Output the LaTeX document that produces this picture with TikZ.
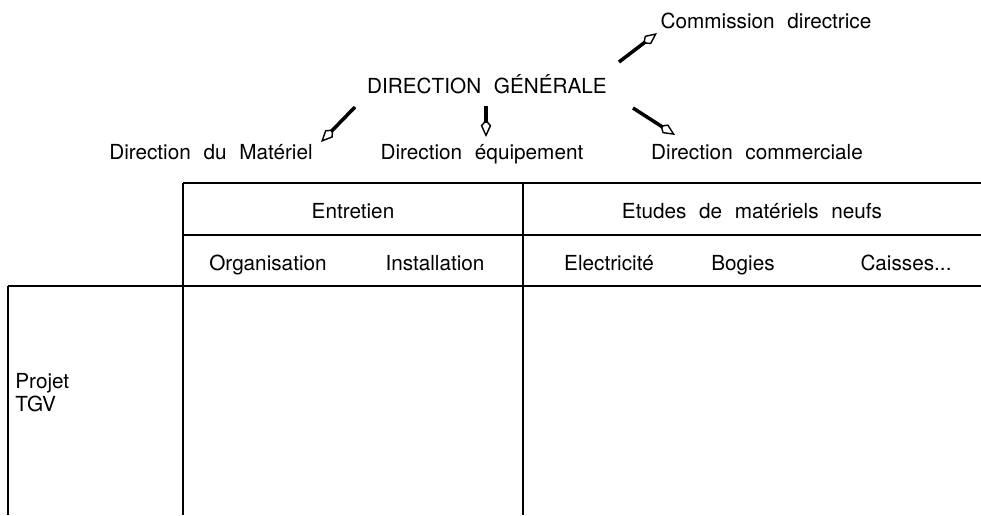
\documentclass[tikz,border=0pt]{standalone}
\usepackage{fontspec}
\setmainfont[WordSpace=2.2]{TeX Gyre Heros}
\usetikzlibrary{arrows.meta,calc}

\begin{document}
\begin{tikzpicture}[x=0.02cm,y=-0.02cm,
	every node/.style={font=\fontsize{11.8}{12.6}\selectfont,inner sep=0pt,anchor=base},
	nib/.style={line width=2pt,-{Kite[open,length=10pt,width=6pt,inset=3.5pt,line width=0.8pt]}},
	rule/.style={line width=1.1pt}]
	\useasboundingbox (0,0) rectangle (981,515);
	% organigramme
	\node (commission) at (766,28) {Commission directrice};
	\node (dirgen) at (487,93) {DIRECTION GÉNÉRALE};
	\node (materiel) at (211,159) {Direction du Matériel};
	\node (equipement) at (482,159) {Direction équipement};
	\node (commerciale) at (757,159) {Direction commerciale};
	\draw[nib] ($(dirgen.base)+(132,-31)$) -- ($(commission.base)+(-109,5)$);
	\draw[nib] ($(dirgen.base)+(-132,14)$) -- ($(materiel.base)+(110,-17)$);
	\draw[nib] ($(dirgen.base)+(-1,13)$) -- ($(equipement.base)+(4,-22)$);
	\draw[nib] ($(dirgen.base)+(146,15)$) -- ($(commerciale.base)+(-82,-24)$);
	% tableau
	\draw[rule] (183,183) -- (981,183);
	\draw[rule] (183,235) -- (981,235);
	\draw[rule] (8,286) -- (981,286);
	\draw[rule] (183,183) -- (183,515);
	\draw[rule] (523,183) -- (523,515);
	\draw[rule] (8,286) -- (8,515);
	\node (entretien) at (353,218) {Entretien};
	\node (etudes) at (752,218) {Etudes de matériels neufs};
	\node (organisation) at (268,270) {Organisation};
	\node (installation) at (435,270) {Installation};
	\node (electricite) at (609,270) {Electricité};
	\node (bogies) at (743,270) {Bogies};
	\node (caisses) at (906,270) {Caisses...};
	\node[anchor=base west,align=left] (projet) at (15,411) {Projet\\TGV};
\end{tikzpicture}
\end{document}
